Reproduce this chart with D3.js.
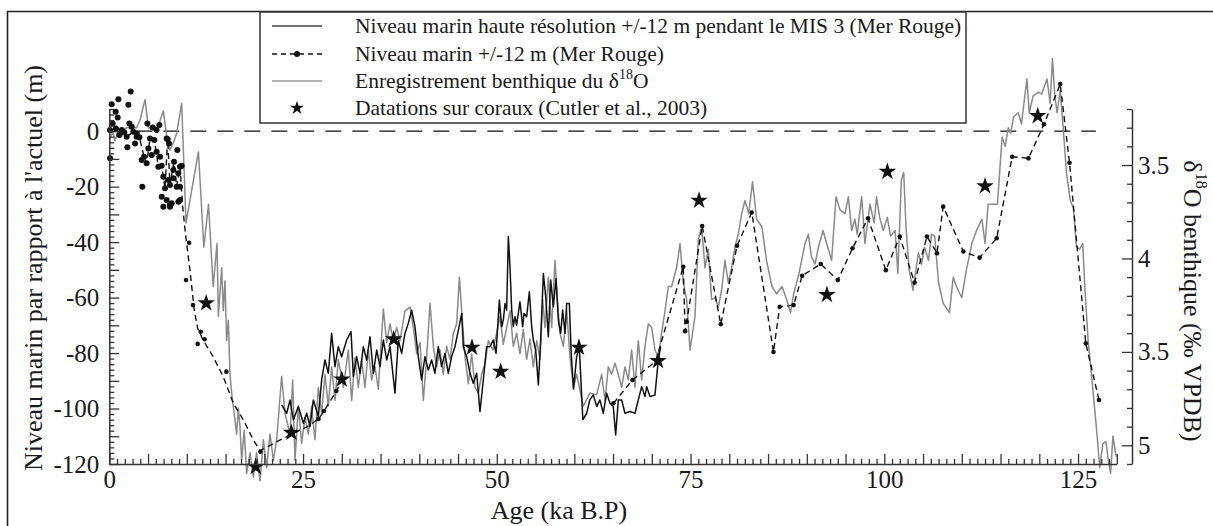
<!DOCTYPE html>
<html><head><meta charset="utf-8">
<script src="https://cdn.jsdelivr.net/npm/d3@7"></script>
<style>
body{margin:0;background:#fff}
svg{display:block}
text{font-family:"Liberation Serif","Tinos","Times New Roman","Times","Nimbus Roman","DejaVu Serif",serif !important;fill:#1a1a1a}
</style>
</head><body>
<svg id="c" width="1213" height="526"></svg>
<script>
// ---------- DATA ----------
// Benthic δ18O record: [age ka, δ18O ‰]
const benthicRecord = [[0.09,3.36],[0.43,3.32],[0.74,3.37],[1.17,3.31],[1.6,3.32],[2.24,3.30],[2.89,3.30],[3.53,3.30],[3.96,3.26],[4.61,3.15],[5.04,3.30],[5.68,3.31],[6.33,3.29],[6.97,3.21],[7.49,3.37],[7.83,3.42],[8.26,3.38],[8.69,3.33],[9.34,3.17],[9.9,3.81],[11.5,3.43],[12.2,3.94],[12.8,3.71],[13.4,4.15],[13.9,3.92],[14.07,4.31],[14.5,4.05],[14.71,4.28],[14.93,4.12],[15.14,4.44],[15.36,4.33],[15.57,4.62],[15.79,4.72],[16.0,4.79],[16.43,4.94],[16.65,4.80],[16.86,4.90],[17.08,5.08],[17.4,4.92],[17.72,5.15],[18.15,5.04],[18.58,5.17],[19.0,5.04],[19.45,5.19],[19.88,4.97],[20.3,5.12],[20.74,4.94],[21.17,5.08],[21.6,4.97],[22.24,4.63],[22.67,4.83],[23.32,4.94],[23.66,4.65],[23.96,5.08],[24.39,4.79],[24.82,4.99],[25.25,4.85],[25.68,4.94],[26.1,4.79],[26.54,4.97],[26.97,4.69],[27.4,4.83],[27.83,4.62],[28.26,4.79],[28.69,4.58],[29.12,4.76],[29.55,4.54],[30.2,4.69],[30.84,4.49],[31.27,4.76],[31.7,4.53],[32.13,4.69],[32.56,4.54],[32.99,4.69],[33.42,4.49],[33.85,4.65],[34.28,4.58],[34.71,4.70],[35.36,4.27],[35.79,4.45],[36.22,4.35],[36.65,4.44],[37.08,4.37],[37.51,4.44],[38.15,4.28],[38.8,4.26],[39.23,4.37],[39.66,4.51],[40.09,4.45],[40.52,4.76],[40.95,4.53],[41.38,4.24],[41.81,4.47],[42.24,4.58],[42.67,4.49],[43.1,4.62],[43.53,4.47],[43.96,4.54],[44.39,4.40],[44.82,4.35],[45.17,4.10],[45.47,4.28],[45.9,4.53],[46.33,4.67],[46.76,4.51],[47.19,4.69],[47.62,4.72],[48.05,4.62],[48.48,4.56],[48.91,4.44],[49.5,4.49],[49.98,4.40],[50.41,4.31],[50.84,4.46],[51.27,4.37],[51.7,4.28],[52.13,4.47],[52.56,4.40],[52.99,4.51],[53.42,4.38],[53.85,4.54],[54.28,4.43],[54.71,4.58],[55.15,4.44],[55.58,4.54],[55.92,4.22],[56.22,4.37],[56.65,4.10],[57.08,4.37],[57.51,4.01],[57.81,4.22],[58.16,4.40],[58.59,4.47],[59.02,4.28],[59.45,4.53],[59.88,4.69],[60.31,4.62],[61.16,4.79],[62.02,4.72],[62.88,4.73],[63.53,4.62],[63.96,4.76],[64.39,4.58],[64.82,4.62],[65.25,4.56],[65.68,4.62],[66.11,4.69],[66.54,4.58],[66.97,4.65],[67.4,4.49],[67.83,4.69],[68.26,4.44],[68.69,4.65],[69.12,4.47],[69.55,4.35],[69.98,4.37],[70.41,4.49],[70.84,4.53],[71.27,4.40],[71.7,4.28],[72.13,4.15],[72.56,4.15],[73.2,4.05],[73.64,3.92],[74.07,4.13],[74.5,4.22],[74.93,4.49],[75.57,4.31],[76.0,3.90],[76.43,3.83],[76.86,4.05],[77.29,3.95],[77.72,4.22],[78.15,4.21],[78.58,4.26],[79.01,4.17],[79.44,4.01],[79.87,4.13],[80.3,4.05],[80.73,3.94],[81.16,3.87],[81.6,3.76],[82.02,3.69],[82.5,3.76],[83.0,3.59],[83.53,3.79],[84.2,3.83],[84.8,4.01],[85.5,4.15],[86.1,4.19],[86.8,4.15],[87.4,4.22],[87.9,4.29],[88.3,4.19],[89.0,4.08],[89.77,3.92],[90.2,3.87],[90.6,3.99],[91.06,4.03],[91.5,3.94],[92.1,3.85],[92.56,3.92],[93.2,4.01],[93.77,3.67],[94.28,3.74],[94.93,3.76],[95.36,3.67],[95.79,3.85],[96.2,3.79],[96.5,3.87],[97.08,3.67],[97.5,3.92],[98.15,3.71],[98.7,3.81],[99.0,3.67],[99.4,3.78],[99.87,3.85],[100.4,3.78],[100.8,3.88],[101.4,3.85],[101.75,4.08],[102.2,3.58],[102.5,3.54],[102.8,3.83],[103.2,4.06],[103.7,4.17],[104.4,3.97],[104.8,4.03],[105.2,3.94],[105.7,4.01],[106.1,3.87],[106.5,3.88],[107.0,4.13],[107.6,4.24],[108.4,4.29],[108.9,4.10],[109.3,4.15],[110.0,4.21],[110.6,4.06],[111.3,3.92],[111.9,3.85],[112.6,3.79],[113.0,3.92],[113.4,3.71],[114.1,3.71],[114.6,3.71],[114.9,3.53],[115.2,3.35],[115.6,3.40],[116.0,3.30],[116.3,3.33],[116.7,3.24],[117.3,3.22],[117.7,3.28],[118.4,3.04],[118.7,3.22],[119.2,3.13],[119.9,3.11],[120.3,3.12],[121.0,3.04],[121.4,3.17],[121.7,2.93],[122.0,3.13],[122.3,3.22],[122.7,3.10],[123.1,3.31],[123.5,3.54],[124.0,3.69],[124.4,3.73],[124.8,3.94],[125.2,3.95],[125.6,3.92],[125.9,4.17],[126.3,4.44],[127.0,4.74],[127.4,4.92],[127.8,5.12],[128.2,4.99],[128.6,4.98],[128.9,5.08],[129.2,5.15],[129.5,4.95],[129.9,5.06]];

// High-resolution MIS 3 sea level (Red Sea): [age ka, m]
const mis3Record = [[22.24,-98.7],[22.89,-101.7],[23.32,-96.9],[23.75,-104.1],[24.39,-99.3],[25.04,-105.3],[25.47,-101.7],[25.9,-106.5],[26.33,-96.9],[26.97,-102.9],[27.4,-89.7],[27.83,-82.5],[28.26,-87.3],[28.69,-72.9],[29.12,-84.9],[29.55,-77.7],[29.98,-81.3],[30.63,-75.3],[31.19,-72.3],[31.49,-88.5],[31.92,-81.3],[32.35,-87.3],[32.78,-77.7],[33.21,-82.5],[33.64,-74.1],[34.07,-87.3],[34.5,-78.9],[34.93,-84.9],[35.36,-75.3],[35.79,-82.5],[36.22,-77.7],[36.86,-94.5],[37.29,-75.3],[37.72,-80.1],[38.15,-72.9],[38.58,-69.3],[39.01,-64.5],[39.44,-70.5],[39.87,-81.3],[40.3,-89.7],[40.73,-81.3],[41.16,-86.1],[41.59,-82.5],[42.02,-87.3],[42.45,-77.7],[42.88,-84.9],[43.31,-80.1],[43.74,-87.3],[44.17,-81.3],[44.6,-77.7],[45.04,-71.7],[45.47,-65.7],[45.68,-77.7],[46.11,-81.3],[46.54,-87.3],[46.97,-90.9],[47.4,-87.3],[47.83,-101.1],[48.26,-89.7],[48.69,-77.7],[49.12,-77.7],[49.55,-75.3],[49.9,-80.1],[50.33,-60.9],[50.63,-70.5],[50.84,-68.1],[51.06,-62.1],[51.27,-64.5],[51.49,-38.0],[51.7,-48.9],[51.92,-64.5],[52.13,-70.5],[52.35,-66.9],[52.56,-69.9],[52.99,-61.5],[53.34,-70.5],[53.51,-65.7],[53.85,-66.9],[54.2,-57.9],[54.5,-70.5],[54.71,-75.3],[55.02,-78.9],[55.36,-91.5],[55.66,-75.3],[56.01,-51.3],[56.31,-59.7],[56.65,-74.1],[56.95,-53.7],[57.3,-63.3],[57.64,-53.1],[57.94,-68.1],[58.24,-72.9],[58.5,-64.5],[58.8,-72.9],[59.02,-62.1],[59.36,-62.1],[59.6,-80],[59.9,-93],[60.3,-81.3],[60.65,-78],[61.1,-104],[61.6,-101.7],[62.0,-96.9],[62.45,-95.1],[62.9,-99.3],[63.3,-96.9],[63.74,-101.7],[64.17,-94.5],[64.6,-98.1],[65.03,-99.3],[65.34,-109.5],[65.68,-96.9],[66.11,-96.9],[66.54,-101.7],[67.19,-101.1],[67.83,-101.7],[68.26,-96.9],[68.69,-92.1],[69.12,-95.7],[69.34,-92.1],[69.77,-95.7],[70.41,-95.1],[70.84,-82.5],[71.14,-77.7]];

// Red Sea sea level curve (dashed), null = gap: [age ka, m]
const redSeaCurve = [[0.09,0.4],[0.86,1.0],[1.6,0.4],[2.24,-2.0],[3.1,-0.2],[3.88,-2.2],[4.48,-9.2],[4.82,-11.6],[5.25,-2.6],[5.81,-3.2],[6.33,-12.8],[6.76,-12.5],[7.19,-20.6],[7.53,-2.9],[7.83,-19.4],[8.35,-11.0],[8.69,-20.0],[9.12,-12.8],[9.47,-27.2],[9.77,-35.6],[10.4,-50],[10.97,-64.5],[11.4,-71.1],[12.1,-75.3],[13.4,-81.3],[14.7,-88.5],[16.0,-98.1],[17.3,-104.1],[18.6,-111.4],[19.45,-115.2],[22.0,-111.4],[23.7,-109],[25.5,-106.6],[27.0,-103.8],[27.7,-100.9],[29.3,-93.7],[30.0,-89.7],[47,null],[65.05,-98.1],[67.5,-89.7],[70.5,-83],[74.06,-48.9],[74.3,-72.1],[74.5,-68.7],[76.5,-34.2],[78.9,-69.6],[81.0,-41.3],[82.9,-29.3],[85.7,-79.6],[86.5,-63.3],[88.3,-62.7],[89.4,-52.1],[91.8,-47.9],[94.0,-53.7],[95.9,-42.2],[97.9,-31.4],[100.2,-50.1],[102.0,-38.0],[103.9,-54.6],[105.5,-38.0],[106.8,-44.0],[107.6,-27.2],[110.2,-43.4],[112.3,-45.6],[114.5,-38.6],[116.5,-9.2],[118.6,-9.8],[120.6,2.5],[122.7,17],[123.9,-11.4],[126.0,-76.5],[127.7,-96.9]];

// Red Sea sample points (dots): [age ka, m]
const redSeaPoints = [[10.3,-40.2],[9.9,-53.7],[10.8,-62.7],[11.8,-72.3],[11.4,-76.7],[12.3,-75],[15.1,-86.7],[19.5,-115.6],[27.0,-103.8],[27.7,-100.9],[29.3,-93.7],[65.05,-98.1],[67.5,-89.7],[74.06,-48.9],[74.3,-72.1],[74.5,-68.7],[76.5,-34.2],[78.9,-69.6],[81.0,-41.3],[82.9,-29.3],[85.7,-79.6],[86.5,-63.3],[88.3,-62.7],[89.4,-52.1],[91.8,-47.9],[94.0,-53.7],[95.9,-42.2],[97.9,-31.4],[100.2,-50.1],[102.0,-38.0],[103.9,-54.6],[105.5,-38.0],[106.8,-44.0],[107.6,-27.2],[110.2,-43.4],[112.3,-45.6],[114.5,-38.6],[116.5,-9.2],[118.6,-9.8],[120.6,2.5],[122.7,17],[123.9,-11.4],[126.0,-76.5],[127.7,-96.9]];

// Holocene / deglacial dense samples: [age ka, m]
const holocenePoints = [[0.31,9.7],[1.17,11.5],[2.76,14.3],[2.46,9.5],[0.82,7.0],[1.08,4.9],[0.43,2.8],[0.09,0.4],[0.86,1.0],[1.6,0.4],[1.3,-1.4],[1.94,-0.5],[2.24,-2.0],[2.59,2.8],[2.89,1.6],[3.1,-0.2],[3.53,-2.0],[3.88,-2.2],[2.33,-5.8],[3.32,-4.4],[4.26,-20.0],[4.91,2.8],[5.6,1.3],[6.46,2.2],[5.25,-2.6],[5.81,-3.2],[5.04,-6.2],[4.48,-9.2],[4.18,-10.4],[4.82,-11.6],[5.47,-8.6],[6.11,-7.4],[6.54,-9.2],[6.76,-12.5],[6.33,-12.8],[7.53,-2.9],[7.7,-4.4],[8.78,-6.8],[8.35,-11.0],[9.12,-12.8],[9.34,-12.5],[6.97,-16.4],[7.62,-17.6],[8.26,-17.0],[8.91,-15.2],[7.19,-20.6],[7.83,-19.4],[8.69,-20.0],[9.12,-20.0],[6.76,-23.6],[7.4,-24.8],[8.05,-26.0],[8.91,-25.4],[6.97,-27.2],[7.83,-27.2],[0.1,-9.8],[3.54,-0.8],[6.1,0.4],[7.4,-2.6],[8.26,-14],[9.12,-24.8],[7.8,-26.6]];

// Coral datings (Cutler et al., 2003): [age ka, m]
const coralDates = [[12.5,-62],[18.9,-121],[23.5,-108.7],[30.0,-89.5],[36.7,-75],[46.8,-78],[50.5,-86.7],[60.6,-78],[70.8,-82.8],[76.1,-25],[92.6,-59],[100.4,-14.6],[113.0,-19.8],[119.8,5.5]];

const xTickLabels = [0,25,50,75,100,125];
const leftTickLabels = [0,-20,-40,-60,-80,-100,-120];
const rightTickValues = [3.5,4,4.5,5];
const rightTickLabels = ["3.5","4","3.5","5"];
const legendLabels = [
  "Niveau marin haute résolution +/-12 m pendant le MIS 3 (Mer Rouge)",
  "Niveau marin +/-12 m (Mer Rouge)",
  "Enregistrement benthique du δ",
  "Datations sur coraux (Cutler et al., 2003)"
];

// ---------- DRAW ----------
const FONT = "'Liberation Serif','Tinos','Times New Roman',Times,'Nimbus Roman','DejaVu Serif',serif";
const svg = d3.select("#c");
const x  = d3.scaleLinear().domain([0,130]).range([109.3,1116.8]);
const yL = d3.scaleLinear().domain([-120,8]).range([464,109]);
const yR = d3.scaleLinear().domain([3.2,5.1]).range([109,464]);

svg.append("rect").attr("width",1213).attr("height",526).attr("fill","#fff");
svg.append("path").attr("d","M7.5,526V11.5H1213").attr("fill","none").attr("stroke","#222").attr("stroke-width",1.6);

svg.append("line").attr("x1",x(0)).attr("x2",x(127.3)).attr("y1",yL(0)).attr("y2",yL(0))
  .attr("stroke","#111").attr("stroke-width",1.3).attr("stroke-dasharray","16,11");

svg.append("path").datum(benthicRecord)
  .attr("d",d3.line().x(d=>x(d[0])).y(d=>yR(d[1])))
  .attr("fill","none").attr("stroke","#8a8a8a").attr("stroke-width",1.5).attr("stroke-linejoin","round");

svg.append("path").datum(mis3Record)
  .attr("d",d3.line().x(d=>x(d[0])).y(d=>yL(d[1])))
  .attr("fill","none").attr("stroke","#111").attr("stroke-width",1.5).attr("stroke-linejoin","round");

svg.append("path").datum(redSeaCurve)
  .attr("d",d3.line().defined(d=>d[1]!==null).x(d=>x(d[0])).y(d=>yL(d[1])))
  .attr("fill","none").attr("stroke","#111").attr("stroke-width",1.4).attr("stroke-dasharray","6,4");

svg.append("g").selectAll("circle").data(redSeaPoints).join("circle")
  .attr("cx",d=>x(d[0])).attr("cy",d=>yL(d[1])).attr("r",2.3).attr("fill","#111");
svg.append("g").selectAll("circle").data(holocenePoints).join("circle")
  .attr("cx",d=>x(d[0])).attr("cy",d=>yL(d[1])).attr("r",3).attr("fill","#111");

const star = d3.symbol().type(d3.symbolStar).size(95);
svg.append("g").selectAll("path").data(coralDates).join("path")
  .attr("d",star).attr("transform",d=>`translate(${x(d[0])},${yL(d[1])})`).attr("fill","#111");

// ---------- AXES ----------
function styleAxis(g){
  g.attr("font-family",FONT);
  g.selectAll(".domain").attr("stroke","#333").attr("stroke-width",1.5);
  g.selectAll(".tick line").attr("stroke","#333").attr("stroke-width",1.3);
  g.selectAll(".tick text").attr("font-family",FONT).attr("font-size",25).attr("fill","#1a1a1a");
}
const gx = svg.append("g").attr("transform",`translate(0,${yL(-120)})`);
gx.call(d3.axisBottom(x).tickValues(d3.range(0,131,5)).tickSize(-10).tickSizeOuter(0).tickPadding(6)
  .tickFormat(d=>xTickLabels.includes(d)?String(d):""));
styleAxis(gx);
const gx2 = svg.append("g").attr("transform",`translate(0,${yL(-120)})`);
gx2.call(d3.axisBottom(x).tickValues(d3.range(0,131,1).filter(d=>d%5!==0)).tickSize(-5).tickSizeOuter(0).tickFormat(""));
gx2.select(".domain").remove();
styleAxis(gx2);

const gl = svg.append("g").attr("transform",`translate(${x(0)},0)`);
gl.call(d3.axisLeft(yL).tickValues(d3.range(-120,9,10)).tickSize(-10).tickSizeOuter(0).tickPadding(10)
  .tickFormat(d=>leftTickLabels.includes(d)?String(d):""));
styleAxis(gl);
const gl2 = svg.append("g").attr("transform",`translate(${x(0)},0)`);
gl2.call(d3.axisLeft(yL).tickValues(d3.range(-120,9,2).filter(d=>d%10!==0)).tickSize(-5).tickSizeOuter(0).tickFormat(""));
gl2.select(".domain").remove();
styleAxis(gl2);

const gr = svg.append("g").attr("transform","translate(1132,0)");
gr.call(d3.axisRight(yR).tickValues(rightTickValues).tickSize(-10).tickSizeOuter(0).tickPadding(6)
  .tickFormat((d,i)=>rightTickLabels[i]));
styleAxis(gr);
const gr2 = svg.append("g").attr("transform","translate(1132,0)");
gr2.call(d3.axisRight(yR).tickValues(d3.range(32,52).map(v=>v/10).filter(v=>!rightTickValues.some(t=>Math.abs(t-v)<1e-6)))
  .tickSize(-5).tickSizeOuter(0).tickFormat(""));
gr2.select(".domain").remove();
styleAxis(gr2);

// titles
svg.append("text").attr("transform","translate(33,268) rotate(-90)").attr("font-family",FONT)
  .attr("text-anchor","middle").attr("dominant-baseline","central").attr("font-size",26)
  .text("Niveau marin par rapport à l'actuel (m)");
const rt = svg.append("text").attr("transform","translate(1193,301) rotate(90)").attr("font-family",FONT)
  .attr("text-anchor","middle").attr("dominant-baseline","central").attr("font-size",26);
rt.append("tspan").text("δ");
rt.append("tspan").attr("font-size",16).attr("dy",-9).text("18");
rt.append("tspan").attr("dy",9).text("O benthique (‰ VPDB)");
svg.append("text").attr("x",559).attr("y",510).attr("text-anchor","middle").attr("font-family",FONT)
  .attr("dominant-baseline","central").attr("font-size",26).text("Age (ka B.P)");

// ---------- LEGEND ----------
const lg = svg.append("g");
lg.append("rect").attr("x",260).attr("y",12).attr("width",706).attr("height",111)
  .attr("fill","#fff").attr("stroke","#333").attr("stroke-width",1.5);
const rowsY = [26,54,81,108];
lg.append("line").attr("x1",272).attr("x2",322).attr("y1",rowsY[0]).attr("y2",rowsY[0]).attr("stroke","#444").attr("stroke-width",1.5);
lg.append("line").attr("x1",272).attr("x2",322).attr("y1",rowsY[1]).attr("y2",rowsY[1]).attr("stroke","#111").attr("stroke-width",1.4).attr("stroke-dasharray","5,4");
lg.append("circle").attr("cx",297).attr("cy",rowsY[1]).attr("r",3).attr("fill","#111");
lg.append("line").attr("x1",272).attr("x2",322).attr("y1",rowsY[2]).attr("y2",rowsY[2]).attr("stroke","#9a9a9a").attr("stroke-width",1.5);
lg.append("path").attr("d",d3.symbol().type(d3.symbolStar).size(60)).attr("transform",`translate(297,${rowsY[3]})`).attr("fill","#111");
legendLabels.forEach((t,i)=>{
  const tx = lg.append("text").attr("x",355).attr("y",rowsY[i]).attr("font-family",FONT).attr("dominant-baseline","central").attr("font-size",21.5);
  tx.append("tspan").text(t);
  if(i===2){
    tx.append("tspan").attr("font-size",14).attr("dy",-7).text("18");
    tx.append("tspan").attr("dy",7).text("O");
  }
});
</script>
</body></html>
